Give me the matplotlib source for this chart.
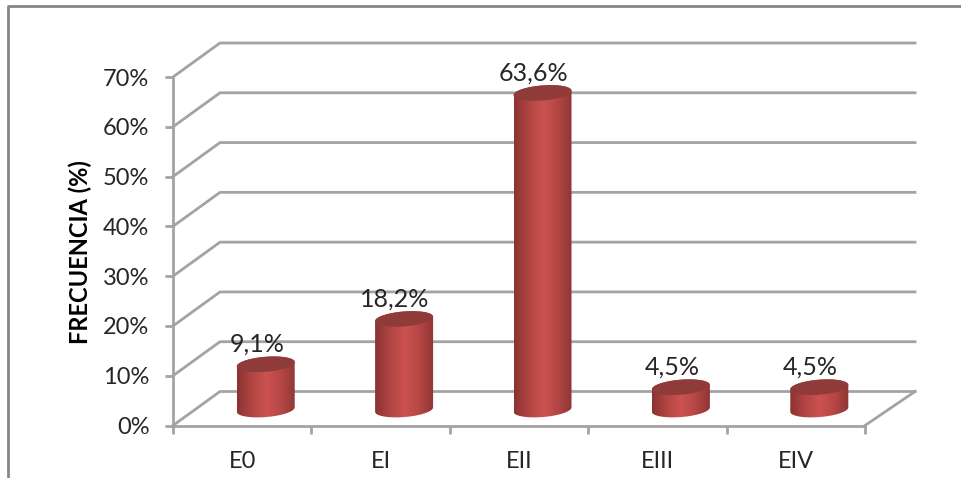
import numpy as np
import matplotlib
matplotlib.use('Agg')
import matplotlib.pyplot as plt
from matplotlib.colors import LinearSegmentedColormap
from matplotlib.lines import Line2D
from matplotlib.patches import Polygon

categories = ['E0', 'EI', 'EII', 'EIII', 'EIV']
values = [9.1, 18.2, 63.6, 4.5, 4.5]
value_labels = ['9,1%', '18,2%', '63,6%', '4,5%', '4,5%']
y_ticks = [0, 10, 20, 30, 40, 50, 60, 70]

plt.rcParams['font.family'] = ['Lato', 'DejaVu Sans']
W, H = 961, 478
GREY = '#a3a3a3'
FRAME = '#868686'
TXT = '#262626'

fig = plt.figure(figsize=(W / 100, H / 100), dpi=100)

# chart frame, open on the right and at the bottom
fig.add_artist(Line2D([8 / W, 8 / W, 1], [0, 1 - 6 / H, 1 - 6 / H], color=FRAME, lw=2))

ax = fig.add_axes([173 / W, 1 - 425.5 / H, (865 - 173) / W, (425.5 - 77) / H])
ax.patch.set_alpha(0)
for s in ['top', 'right']:
    ax.spines[s].set_visible(False)
for s in ['left', 'bottom']:
    ax.spines[s].set_color(GREY)
    ax.spines[s].set_linewidth(2)

# depth of the fake 3d box, in data units
px_x = 138.4
px_y = 348.5 / 70
dx = 47 / px_x
dy = 34 / px_y
right_dx = 50 / px_x

# back wall and side lines
for t in y_ticks:
    ax.plot([0, dx, 5 + right_dx], [t, t + dy, t + dy], color=GREY, lw=2, clip_on=False, zorder=1)
ax.plot([5, 5 + right_dx], [0, dy], color=GREY, lw=2, clip_on=False, zorder=1)

ax.set_xticks(range(6))
ax.set_xticklabels([])
ax.set_yticks(y_ticks)
ax.set_yticklabels([f'{t}%' for t in y_ticks], fontsize=17, color=TXT)
ax.tick_params(axis='both', color=GREY, width=2, length=6)
ax.tick_params(axis='y', pad=11)
for i, c in enumerate(categories):
    ax.annotate(c, (i + 0.5, 0), xytext=(0, -36), textcoords='offset pixels',
                ha='center', va='center', fontsize=17, color=TXT)
ax.set_ylabel('FRECUENCIA (%)', fontsize=17, fontweight='bold', color='black')
ax.yaxis.set_label_coords((92 - 173) / 692, 0.498)

cmap = LinearSegmentedColormap.from_list('cyl', ['#8a3331', '#b04543', '#cc5250', '#b54745', '#8f3634'])
grad = np.linspace(0, 1, 256).reshape(1, -1)

# cylinder shape
rx = 29 / px_x
ry = 7.5 / px_y
tilt = 2.2 / px_y
cy0 = 3.2
t = np.linspace(0, 2 * np.pi, 121)
lower = np.linspace(np.pi, 2 * np.pi, 60)
upper = np.linspace(0, np.pi, 60)
for i, v in enumerate(values):
    cx = i + 0.5 + dx / 2
    bx = cx + rx * np.cos(lower)
    by = cy0 + ry * np.sin(lower) + tilt * np.cos(lower)
    tx = cx + rx * np.cos(upper)
    ty = cy0 + v + ry * np.sin(upper) + tilt * np.cos(upper)
    body = Polygon(np.c_[np.r_[bx, tx], np.r_[by, ty]], closed=True, fc='none', ec='none', zorder=3)
    ax.add_patch(body)
    im = ax.imshow(grad, cmap=cmap, extent=[cx - rx, cx + rx, cy0 - ry - 1, cy0 + v + ry + 1],
                   aspect='auto', zorder=3)
    im.set_clip_path(body)
    ex = cx + rx * np.cos(t)
    ey = cy0 + v + ry * np.sin(t) + tilt * np.cos(t)
    ax.add_patch(Polygon(np.c_[ex, ey], closed=True, fc='#8f3b39', ec='none', zorder=4))
    ax.annotate(value_labels[i], (cx, cy0 + v + ry), xytext=(-9, 1), textcoords='offset pixels',
                ha='center', va='bottom', fontsize=18, color=TXT, zorder=5, annotation_clip=False)

ax.set_xlim(0, 5)
ax.set_ylim(0, 70)

fig.savefig('out.png', dpi=100)
